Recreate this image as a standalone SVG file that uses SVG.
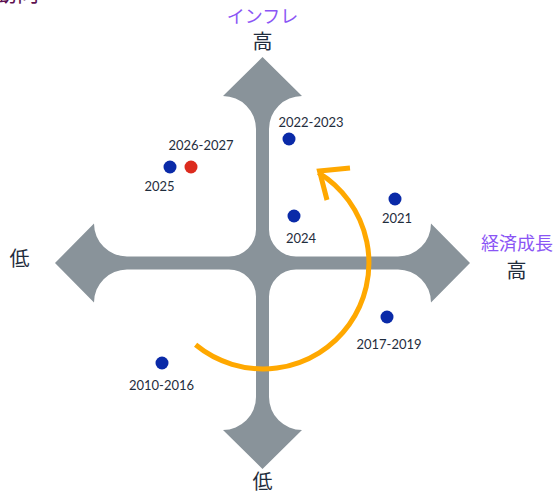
<svg xmlns="http://www.w3.org/2000/svg" width="556" height="494" viewBox="0 0 556 494">
  <style>
    .yr { font-family: "Lato", "Liberation Sans", sans-serif; font-size: 13px; fill: #1f2d3d; text-anchor: middle; }
    .ax { font-family: "Noto Sans CJK JP", "Noto Sans", sans-serif; font-size: 18px; fill: #8a55f5; text-anchor: middle; }
    .lv { font-family: "Noto Sans CJK JP", "Noto Sans", sans-serif; font-size: 20px; fill: #1f2d3d; text-anchor: middle; }
    .dot { fill: #0a2aa8; }
    .dot-red { fill: #dc2b1e; }
    .cross { fill: #89939a; }
    .cycle { fill: none; stroke: #ffa800; stroke-width: 5; stroke-linecap: butt; }
  </style>
  <text x="39" y="0.5" font-family="Noto Sans CJK JP, sans-serif" font-size="22" fill="#5c1050" text-anchor="end">動向</text>

  <g id="axes">
    <path class="cross" d="M262.5 57 L302 96 A33 33 0 0 0 269 129 L269 229.5 A27 27 0 0 0 296 256.5 L398 256.5 A33 33 0 0 0 431 223.5 L470 263 L431 302.5 A33 33 0 0 0 398 269.5 L296 269.5 A27 27 0 0 0 269 296.5 L269 397 A33 33 0 0 0 302 430 L262.5 469 L223 430 A33 33 0 0 0 256 397 L256 296.5 A27 27 0 0 0 229 269.5 L127 269.5 A33 33 0 0 0 94 302.5 L55 263 L94 223.5 A33 33 0 0 0 127 256.5 L229 256.5 A27 27 0 0 0 256 229.5 L256 129 A33 33 0 0 0 223 96 Z"/>
  </g>

  <g id="axis-labels">
    <text class="ax" x="262.5" y="23">インフレ</text>
    <text class="lv" x="262.5" y="49">高</text>
    <text class="ax" x="517" y="250">経済成長</text>
    <text class="lv" x="516.5" y="278">高</text>
    <text class="lv" x="19.5" y="266">低</text>
    <text class="lv" x="262.5" y="489">低</text>
  </g>

  <g id="connectors">
    <path class="cycle" d="M195.6 344.8 A106 106 0 1 0 318.4 172.6"/>
    <polyline class="cycle" points="350,168 319.5,171 327,200" stroke-linejoin="miter"/>
  </g>

  <g id="p2022-2023">
    <circle class="dot" cx="289" cy="139" r="6.5"/>
    <text class="yr" x="311" y="127">2022-2023</text>
  </g>
  <g id="p2026-2027">
    <circle class="dot-red" cx="191" cy="167" r="6.5"/>
    <text class="yr" x="201" y="150">2026-2027</text>
  </g>
  <g id="p2025">
    <circle class="dot" cx="170" cy="167" r="6.5"/>
    <text class="yr" x="159.5" y="191">2025</text>
  </g>
  <g id="p2024">
    <circle class="dot" cx="294" cy="216" r="6.5"/>
    <text class="yr" x="301" y="243">2024</text>
  </g>
  <g id="p2021">
    <circle class="dot" cx="395" cy="199" r="6.5"/>
    <text class="yr" x="397" y="223">2021</text>
  </g>
  <g id="p2017-2019">
    <circle class="dot" cx="387" cy="317" r="6.5"/>
    <text class="yr" x="389" y="349">2017-2019</text>
  </g>
  <g id="p2010-2016">
    <circle class="dot" cx="162" cy="363" r="6.5"/>
    <text class="yr" x="161.5" y="390">2010-2016</text>
  </g>
</svg>
